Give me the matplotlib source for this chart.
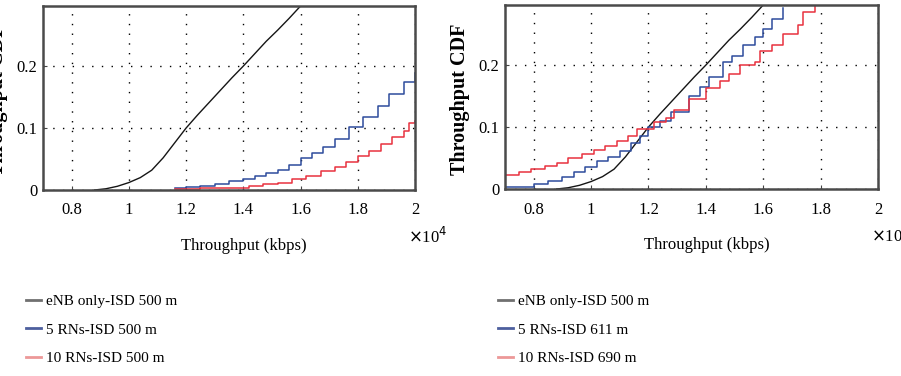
import matplotlib
matplotlib.use("Agg")
import matplotlib.pyplot as plt
from matplotlib.lines import Line2D

plt.rcParams['font.family'] = ['Liberation Serif', 'DejaVu Serif']

# throughput in units of 1e4 kbps
enb_x = [0.88, 0.92, 0.96, 1.00, 1.04, 1.08, 1.12, 1.16, 1.20, 1.24, 1.28, 1.32,
         1.36, 1.40, 1.44, 1.48, 1.52, 1.56, 1.60]
enb_y = [0.000, 0.002, 0.006, 0.012, 0.020, 0.032, 0.052, 0.076, 0.100, 0.121, 0.141,
         0.161, 0.181, 0.200, 0.220, 0.240, 0.258, 0.277, 0.297]

# left panel: ISD 500 m for all
rn5_l_x = [1.16, 1.20, 1.25, 1.30, 1.35, 1.40, 1.44, 1.48, 1.52, 1.56, 1.60, 1.64,
           1.68, 1.72, 1.77, 1.82, 1.87, 1.91, 1.96, 2.00]
rn5_l_y = [0.003, 0.005, 0.007, 0.010, 0.014, 0.018, 0.022, 0.027, 0.032, 0.040,
           0.052, 0.060, 0.070, 0.082, 0.102, 0.118, 0.135, 0.155, 0.175, 0.189]
rn10_l_x = [1.16, 1.25, 1.35, 1.42, 1.47, 1.52, 1.57, 1.62, 1.67, 1.72, 1.76, 1.80,
            1.84, 1.88, 1.92, 1.96, 1.98, 2.00]
rn10_l_y = [0.002, 0.003, 0.004, 0.006, 0.009, 0.012, 0.018, 0.022, 0.030, 0.037,
            0.045, 0.055, 0.063, 0.075, 0.085, 0.095, 0.108, 0.112]

# right panel: ISD 611 m / 690 m
rn5_r_x = [0.70, 0.80, 0.85, 0.90, 0.94, 0.98, 1.02, 1.06, 1.10, 1.14, 1.17, 1.20,
           1.24, 1.28, 1.34, 1.38, 1.41, 1.46, 1.49, 1.53, 1.57, 1.60, 1.63, 1.67]
rn5_r_y = [0.003, 0.008, 0.013, 0.020, 0.027, 0.036, 0.045, 0.052, 0.062, 0.075,
           0.085, 0.100, 0.110, 0.125, 0.150, 0.165, 0.180, 0.205, 0.215, 0.232,
           0.245, 0.258, 0.275, 0.292]
rn10_r_x = [0.70, 0.75, 0.79, 0.84, 0.88, 0.92, 0.97, 1.01, 1.05, 1.09, 1.13, 1.16,
            1.22, 1.26, 1.29, 1.34, 1.40, 1.45, 1.48, 1.52, 1.57, 1.59, 1.63, 1.67,
            1.72, 1.74, 1.78]
rn10_r_y = [0.022, 0.027, 0.033, 0.037, 0.042, 0.050, 0.057, 0.063, 0.070, 0.077,
            0.085, 0.097, 0.108, 0.115, 0.128, 0.145, 0.163, 0.175, 0.185, 0.200,
            0.205, 0.222, 0.232, 0.250, 0.265, 0.285, 0.297]

labels_left = ["eNB only-ISD 500 m", "5 RNs-ISD 500 m", "10 RNs-ISD 500 m"]
labels_right = ["eNB only-ISD 500 m", "5 RNs-ISD 611 m", "10 RNs-ISD 690 m"]

xticks = [0.8, 1.0, 1.2, 1.4, 1.6, 1.8, 2.0]
xticklabels = ["0.8", "1", "1.2", "1.4", "1.6", "1.8", "2"]
yticks = [0, 0.1, 0.2]
yticklabels = ["0", "0.1", "0.2"]

c_black, c_blue, c_red = "#151515", "#2d4c9c", "#e8313f"
leg_colors = ["#707070", "#4d5f9e", "#ec9898"]

fig = plt.figure(figsize=(9.01, 3.76), dpi=100)
ax1 = fig.add_axes([43 / 901, 1 - 190 / 376, 372 / 901, 184 / 376])
ax2 = fig.add_axes([505 / 901, 1 - 189 / 376, 373 / 901, 184 / 376])

panels = [
    (ax1, rn5_l_x, rn5_l_y, rn10_l_x, rn10_l_y, labels_left, 12 / 901),
    (ax2, rn5_r_x, rn5_r_y, rn10_r_x, rn10_r_y, labels_right, 484 / 901),
]

for ax, bx, by, rx, ry, labels, lx in panels:
    ax.plot(enb_x, enb_y, color=c_black, lw=1.0)
    ax.plot(bx, by, color=c_blue, lw=1.1, drawstyle="steps-post")
    ax.plot(rx, ry, color=c_red, lw=1.1, drawstyle="steps-post")
    ax.set_xlim(0.7, 2.0)
    ax.set_ylim(0, 0.297)
    ax.set_xticks(xticks)
    ax.set_xticklabels(xticklabels)
    ax.set_yticks(yticks)
    ax.set_yticklabels(yticklabels)
    ax.grid(True, color="black", linestyle=(0, (1, 6)), linewidth=1.0)
    ax.tick_params(direction="in", length=3, labelsize=12, color="#444444")
    ax.tick_params(axis="x", pad=9)
    ax.tick_params(axis="y", pad=4)
    for sp in ax.spines.values():
        sp.set_color("#4a4a4a")
        sp.set_linewidth(1.8)
    ax.set_xlabel("Throughput (kbps)", fontsize=12)
    ax.xaxis.set_label_coords(0.5 + 15 / 372, -48 / 184)
    ax.set_ylabel("Throughput CDF", fontsize=14.5, fontweight="bold")
    ax.yaxis.set_label_coords(-35 / 373, 0.49)
    ax.text(1.0 - 7 / 372, -0.2, r"$\times$10$^4$", transform=ax.transAxes, fontsize=12,
            ha="left", va="top")
    handles = [Line2D([], [], color=c, lw=2) for c in leg_colors]
    fig.legend(handles, labels, loc="upper left", bbox_to_anchor=(lx, 1 - 281 / 376),
               frameon=False, fontsize=11, handlelength=1.0, handletextpad=0.35,
               labelspacing=0.95)

fig.savefig("out.png", dpi=100)
